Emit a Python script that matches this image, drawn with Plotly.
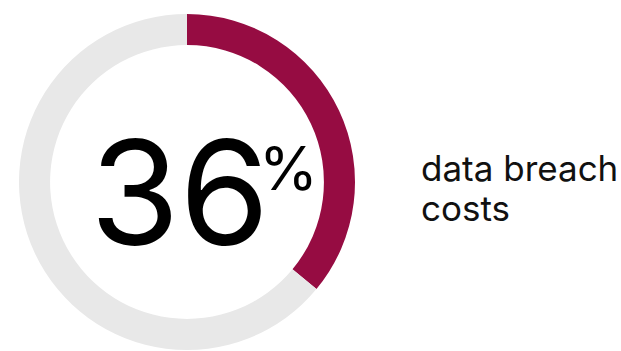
import plotly.graph_objects as go

W, H = 621, 351
labels = ["data breach costs", "other"]
values = [36, 64]
colors = ["#960C42", "#E8E8E8"]
big_number = "36"
unit = "%"
caption_lines = ["data breach", "costs"]

cx, cy, r = 187, 182, 168
fig = go.Figure(go.Pie(
    labels=labels, values=values, hole=0.815, sort=False,
    direction="clockwise", rotation=0,
    marker=dict(colors=colors, line=dict(width=0)),
    textinfo="none", hoverinfo="label+percent", showlegend=False,
    domain=dict(x=[(cx - r) / W, (cx + r) / W], y=[(H - cy - r) / H, (H - cy + r) / H]),
))

def px(x):
    return x / W

def py(y):
    return 1 - y / H

fig.add_annotation(x=px(179), y=py(192), text=big_number, showarrow=False,
                   xref="paper", yref="paper", xanchor="center", yanchor="middle",
                   font=dict(family="Inter", size=145, color="#000000"))
fig.add_annotation(x=px(288), y=py(168), text=unit, showarrow=False,
                   xref="paper", yref="paper", xanchor="center", yanchor="middle",
                   font=dict(family="Inter", size=60, color="#000000"))
fig.add_annotation(x=px(419), y=py(168), text=caption_lines[0], showarrow=False,
                   xref="paper", yref="paper", xanchor="left", yanchor="middle",
                   font=dict(family="Inter", size=35, color="#111111"))
fig.add_annotation(x=px(419), y=py(208), text=caption_lines[1], showarrow=False,
                   xref="paper", yref="paper", xanchor="left", yanchor="middle",
                   font=dict(family="Inter", size=35, color="#111111"))

fig.update_layout(width=W, height=H, margin=dict(l=0, r=0, t=0, b=0),
                  paper_bgcolor="white", plot_bgcolor="white")
fig.write_html("out.html", config={"displayModeBar": False},
               post_script="document.body.style.margin='0';")
